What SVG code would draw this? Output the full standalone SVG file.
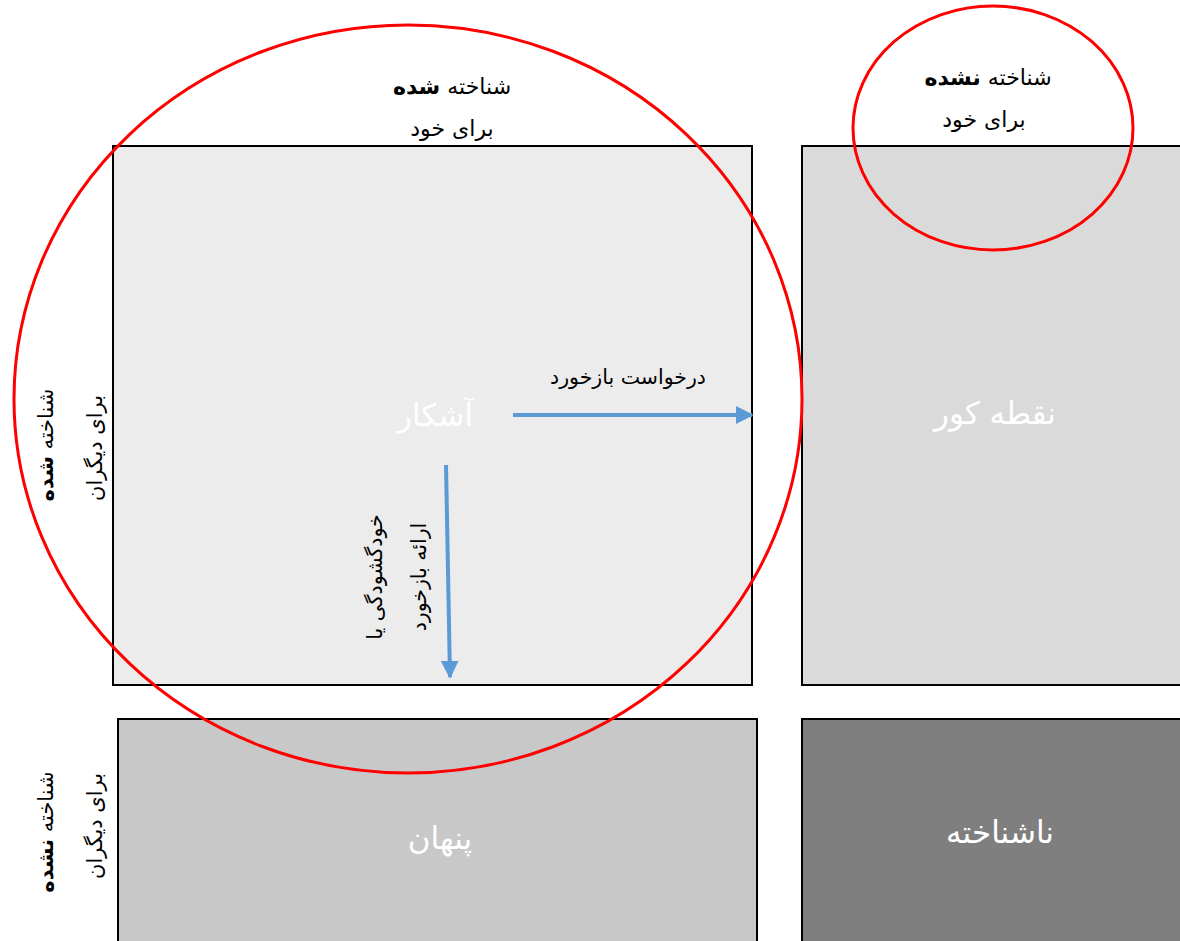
<svg xmlns="http://www.w3.org/2000/svg" width="1180" height="941" viewBox="0 0 1180 941">
<style>
.box{stroke:#000;stroke-width:2}
.lbl{font-family:"DejaVu Sans","Noto Sans",sans-serif;font-size:20.5px;fill:#000;text-anchor:middle}
.top{font-size:22px}
.side{font-size:21px}
.big{font-family:"DejaVu Sans","Noto Sans",sans-serif;font-size:31px;fill:#fff;text-anchor:middle}
.ring{fill:none;stroke:#ff0000;stroke-width:3}
.conn{stroke:#5b9bd5;stroke-width:4;fill:none}
</style>
<defs>
<marker id="ah" viewBox="0 0 10 10" refX="9" refY="5" markerWidth="4.5" markerHeight="4.5" orient="auto" markerUnits="strokeWidth">
<path d="M0,0 L10,5 L0,10 z" fill="#5b9bd5"/>
</marker>
</defs>
<rect width="1180" height="941" fill="#fff"/>
<g id="node-open">
<rect class="box" x="113" y="146" width="639" height="539" fill="#ececec"/>
<text class="big" x="435" y="426" direction="rtl">آشکار</text>
</g>
<g id="node-blind">
<rect class="box" x="802" y="146" width="400" height="539" fill="#dadada"/>
<text class="big" x="995" y="424" direction="rtl">نقطه کور</text>
</g>
<g id="node-hidden">
<rect class="box" x="118" y="719" width="639" height="240" fill="#c8c8c8"/>
<text class="big" x="440" y="849" direction="rtl">پنهان</text>
</g>
<g id="node-unknown">
<rect class="box" x="802" y="719" width="400" height="240" fill="#7f7f7f"/>
<text class="big" x="1000" y="843" direction="rtl">ناشناخته</text>
</g>
<g id="labels">
<text class="lbl top" x="452" y="94" direction="rtl">شناخته <tspan font-weight="bold">شده</tspan></text>
<text class="lbl top" x="452" y="136" direction="rtl">برای خود</text>
<text class="lbl top" x="988" y="85" direction="rtl">شناخته <tspan font-weight="bold">نشده</tspan></text>
<text class="lbl top" x="984" y="127" direction="rtl">برای خود</text>
<text class="lbl side" direction="rtl" transform="translate(53,445) rotate(-90)">شناخته <tspan font-weight="bold">شده</tspan></text>
<text class="lbl side" direction="rtl" transform="translate(102,448) rotate(-90)">برای دیگران</text>
<text class="lbl side" direction="rtl" transform="translate(53,832) rotate(-90)">شناخته <tspan font-weight="bold">نشده</tspan></text>
<text class="lbl side" direction="rtl" transform="translate(102,826) rotate(-90)">برای دیگران</text>
</g>
<g id="rings">
<ellipse class="ring" cx="408" cy="399" rx="394" ry="374"/>
<ellipse class="ring" cx="993" cy="128" rx="140" ry="122"/>
</g>
<g id="connectors">
<line class="conn" x1="513" y1="415" x2="752" y2="415" marker-end="url(#ah)"/>
<text class="lbl" x="628" y="384" direction="rtl">درخواست بازخورد</text>
<line class="conn" x1="446" y1="465" x2="450" y2="677" marker-end="url(#ah)"/>
<text class="lbl" direction="rtl" transform="translate(382,577) rotate(-90)">خودگشودگی یا</text>
<text class="lbl" direction="rtl" transform="translate(426,577) rotate(-90)">ارائه بازخورد</text>
</g>
</svg>
